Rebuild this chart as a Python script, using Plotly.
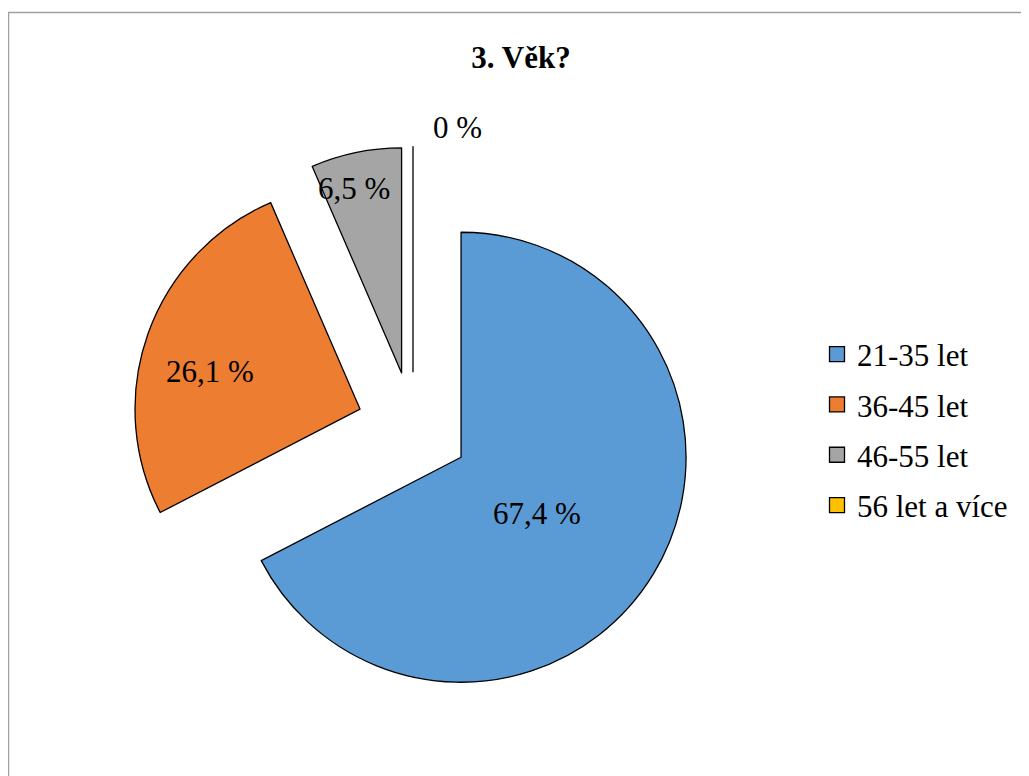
import math
import plotly.graph_objects as go

categories = ["21-35 let", "36-45 let", "46-55 let", "56 let a více"]
values = [67.4, 26.1, 6.5, 0.0]
colors = ["#5B9BD5", "#ED7D31", "#A5A5A5", "#FFC000"]
title_text = "3. Věk?"

W, H = 1029, 776
FONT = "Liberation Serif"
FS = 31

def fmt(v):
    s = f"{v:.1f}".replace(".", ",")
    if s.endswith(",0"):
        s = s[:-2]
    return s + " %"

labels_text = [fmt(v) for v in values]

# pie geometry (figure pixels; the page body adds an 8px offset)
cx, cy, r, pull = 405, 420, 225, 0.25
half = r * (1 + pull)

fig = go.Figure()
fig.add_trace(go.Pie(
    labels=categories,
    values=values,
    text=labels_text,
    textinfo="none",
    sort=False,
    direction="clockwise",
    rotation=0,
    pull=[pull] * len(values),
    marker=dict(colors=colors, line=dict(color="black", width=1.3)),
    domain=dict(x=[(cx - half) / W, (cx + half) / W],
                y=[1 - (cy + half) / H, 1 - (cy - half) / H]),
    hoverinfo="label+text",
    showlegend=False,
))

# legend entries (one per category)
for cat, col in zip(categories, colors):
    fig.add_trace(go.Scatter(
        x=[None], y=[None], mode="markers", name=cat, legendgroup=cat,
        marker=dict(symbol="square", size=15, color=col,
                    line=dict(color="black", width=1.3)),
        hoverinfo="skip",
    ))

# data labels placed relative to each slice (radial fraction, angular nudge in degrees)
label_frac = [0.42, 0.688, 0.845, 1.085]
label_turn = [5.0, -5.4, -2.9, 0.0]
label_anchor = ["center", "center", "center", "left"]
label_xshift = [0, 0, 0, 18]
total = sum(values)
cum = 0.0
annotations = []
for v, t, f, tn, anc, xs in zip(values, labels_text, label_frac, label_turn,
                                 label_anchor, label_xshift):
    mid = (cum + v / 2) / total * 2 * math.pi
    cum += v
    apx = cx + pull * r * math.sin(mid)
    apy = cy - pull * r * math.cos(mid)
    a = mid + math.radians(tn)
    ax = apx + f * r * math.sin(a)
    ay = apy - f * r * math.cos(a)
    annotations.append(dict(
        x=ax / W, y=1 - ay / H, xref="paper", yref="paper",
        text=t, showarrow=False, xanchor=anc, yanchor="middle", xshift=xs,
        font=dict(family=FONT, size=FS, color="black"),
    ))

fig.update_layout(
    width=W, height=H,
    margin=dict(l=0, r=0, t=0, b=0, autoexpand=False),
    paper_bgcolor="white",
    plot_bgcolor="white",
    font=dict(family=FONT, size=FS, color="black"),
    xaxis=dict(visible=False),
    yaxis=dict(visible=False),
    title=dict(text="<b>" + title_text + "</b>", x=513 / W, xanchor="center",
               y=1 - 49 / H, yanchor="middle", yref="container",
               font=dict(family=FONT, size=FS, color="black")),
    legend=dict(x=809 / W, xanchor="left", y=1 - 422 / H, yanchor="middle",
                font=dict(family=FONT, size=FS, color="black"),
                tracegroupgap=7, itemclick=False, itemdoubleclick=False,
                bgcolor="rgba(0,0,0,0)"),
    annotations=annotations,
    shapes=[dict(type="rect", xref="paper", yref="paper",
                 x0=0.5 / W, x1=1.2, y0=-0.2, y1=1 - 4.5 / H,
                 line=dict(color="#A0A0A0", width=1.5), fillcolor="rgba(0,0,0,0)",
                 layer="below")],
)

fig.write_html("out.html")
